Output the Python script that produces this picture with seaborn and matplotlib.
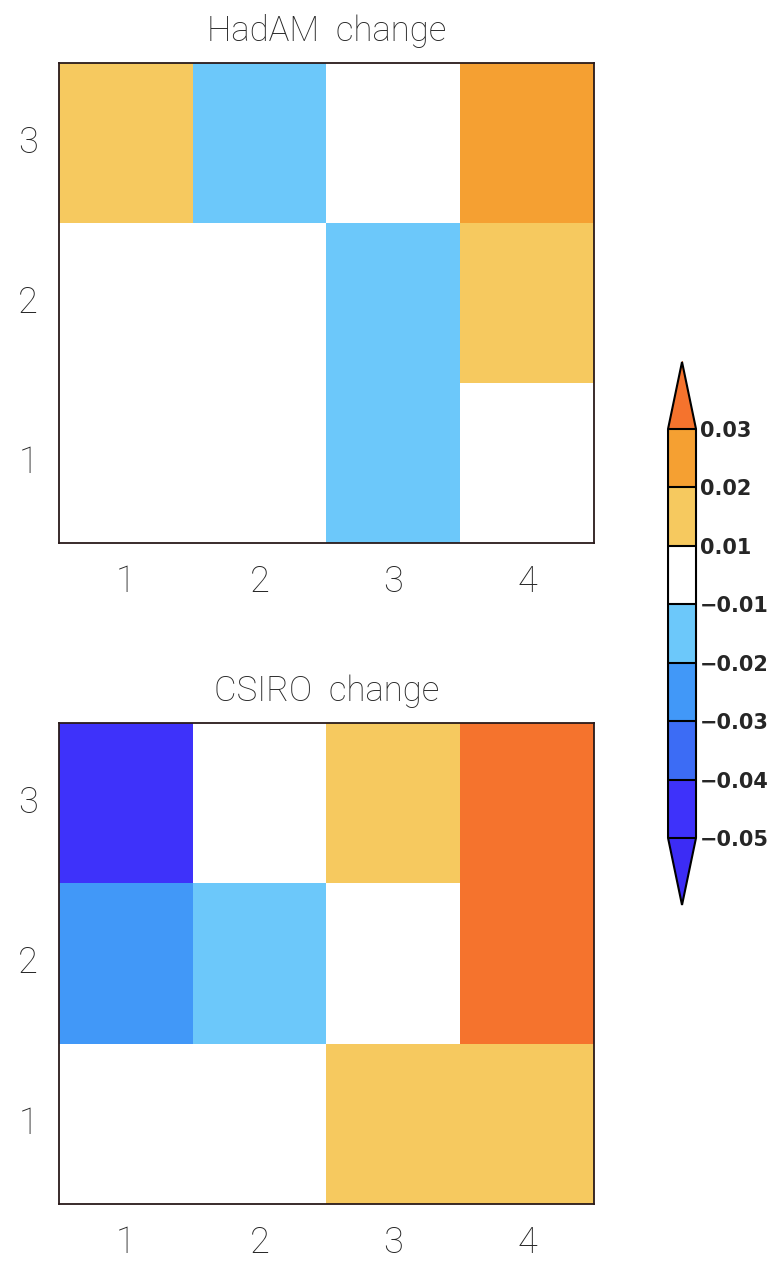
import matplotlib

matplotlib.use("Agg")
import matplotlib.pyplot as plt  # noqa: E402
import seaborn as sns  # noqa: E402
import pandas as pd  # noqa: E402
from matplotlib.colors import ListedColormap, BoundaryNorm  # noqa: E402

# grid: rows listed top (y=3) to bottom (y=1), columns x=1..4
x_labels = ["1", "2", "3", "4"]
y_labels = ["3", "2", "1"]
hadam = [
    [0.015, -0.015, 0.0, 0.025],
    [0.0, 0.0, -0.015, 0.015],
    [0.0, 0.0, -0.015, 0.0],
]
csiro = [
    [-0.045, 0.0, 0.015, 0.035],
    [-0.025, -0.015, 0.0, 0.035],
    [0.0, 0.0, 0.015, 0.015],
]
levels = [-0.05, -0.04, -0.03, -0.02, -0.01, 0.01, 0.02, 0.03]
level_labels = ["\u22120.05", "\u22120.04", "\u22120.03", "\u22120.02",
                "\u22120.01", "0.01", "0.02", "0.03"]
band_colors = ["#3e32fa", "#3c6cf5", "#4198f8", "#6cc8fa",
               "#ffffff", "#f6c95f", "#f5a032"]

sns.set_style("white")
plt.rcParams["font.family"] = ["Roboto", "DejaVu Sans"]

cmap = ListedColormap(band_colors)
cmap.set_under("#3c2cf5")
cmap.set_over("#f5732d")
norm = BoundaryNorm(levels, cmap.N)

fig = plt.figure(figsize=(7.73, 12.62), dpi=100)
ax_top = fig.add_axes([0.0763, 0.5697, 0.6921, 0.3803])
ax_bot = fig.add_axes([0.0763, 0.0460, 0.6921, 0.3811])
cax = fig.add_axes([0.8642, 0.2829, 0.0362, 0.4303])

thin = dict(fontfamily=["Roboto", "DejaVu Sans"], fontweight="light")

mesh = None
for ax, data, title in [(ax_top, hadam, "HadAM  change"), (ax_bot, csiro, "CSIRO  change")]:
    df = pd.DataFrame(data, index=y_labels, columns=x_labels)
    sns.heatmap(df, ax=ax, cmap=cmap, norm=norm, cbar=False)
    mesh = ax.collections[0]
    for s in ax.spines.values():
        s.set_visible(True)
        s.set_color("#2a1a1a")
        s.set_linewidth(1.3)
    ax.tick_params(axis="both", length=11, width=1, color="#777777", pad=4)
    ax.set_xticklabels(x_labels, rotation=0, fontsize=26, **thin)
    ax.set_yticklabels(y_labels, rotation=0, fontsize=26, **thin)
    ax.set_xlabel("")
    ax.set_ylabel("")
    ax.set_title(title, fontsize=25, pad=16, **thin)

cb = fig.colorbar(mesh, cax=cax, extend="both", drawedges=True,
                  extendfrac=0.164, ticks=levels)
cb.outline.set_edgecolor("black")
cb.outline.set_linewidth(1.5)
cb.dividers.set_color("black")
cb.dividers.set_linewidth(1.5)
cb.ax.tick_params(length=0, pad=3)
cb.ax.set_yticklabels(level_labels, fontsize=15, fontweight="bold", fontfamily="DejaVu Sans")

fig.savefig("out.png", dpi=100)
plt.close(fig)
